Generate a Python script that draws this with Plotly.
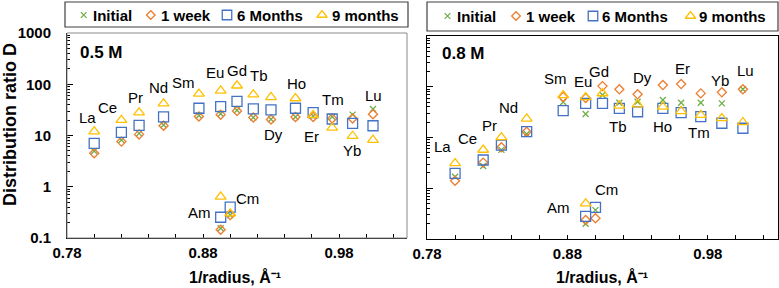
import plotly.graph_objects as go

W, H = 779, 288
FONT = "Liberation Sans, Arial, sans-serif"

# ---------------- data ----------------
elements = ["La", "Ce", "Pr", "Nd", "Sm", "Eu", "Gd", "Tb", "Dy", "Ho", "Er", "Tm", "Yb", "Lu", "Am", "Cm"]
inv_radius = [0.800, 0.820, 0.833, 0.851, 0.877, 0.893, 0.905, 0.917, 0.930, 0.948, 0.961, 0.975, 0.990, 1.005, 0.893, 0.900]

series_names = ["Initial", "1 week", "6 Months", "9 months"]

# 0.5 M
d05_initial = [5.0, 8.2, 11.0, 16.0, 24.5, 26.5, 31.0, 22.5, 20.7, 23.0, 24.0, 23.3, 25.5, 33.0, 0.155, 0.28]
d05_week1 = [4.5, 7.6, 10.5, 15.5, 23.5, 25.5, 30.0, 22.5, 20.5, 23.0, 23.0, 21.5, 21.5, 26.0, 0.145, 0.28]
d05_month6 = [7.0, 11.5, 15.8, 23.0, 34.0, 36.5, 46.5, 33.0, 31.5, 34.0, 28.0, 21.0, 17.3, 15.5, 0.254, 0.40]
d05_month9 = [12.0, 20.0, 28.0, 42.0, 65.0, 75.0, 94.0, 63.0, 56.0, 53.0, 25.0, 14.2, 9.8, 8.2, 0.64, 0.30]

# 0.8 M
d08_initial = [1.69, 2.74, 5.7, 11.7, 50.0, 29.0, 69.0, 48.5, 50.7, 54.8, 48.5, 48.5, 47.0, 89.0, 0.20, 0.37]
d08_week1 = [1.41, 3.2, 6.4, 13.0, 63.0, 60.0, 103.0, 89.0, 71.0, 108.0, 113.0, 74.0, 77.7, 89.0, 0.237, 0.256]
d08_month6 = [1.97, 3.6, 7.1, 13.0, 34.0, 47.0, 47.0, 37.6, 32.2, 37.6, 30.8, 25.7, 19.1, 15.2, 0.28, 0.42]
d08_month9 = [3.1, 5.7, 10.1, 23.5, 68.0, 62.0, 74.0, 42.4, 44.9, 40.4, 33.0, 27.7, 23.9, 20.0, 0.50, None]

x_ticks = [0.78, 0.88, 0.98]
y_ticks = [0.1, 1, 10, 100, 1000]
y_ticktext = ["0.1", "1", "10", "100", "1000"]

# element label positions (x, log10 y) per panel
lab05_x = [0.7954, 0.8101, 0.8300, 0.8476, 0.8653, 0.8888, 0.9050, 0.9212, 0.9315, 0.9491, 0.9601, 0.9756, 0.9896, 1.0050, 0.8771, 0.9124]
lab05_y = [1.361, 1.556, 1.751, 1.946, 2.044, 2.239, 2.278, 2.180, 1.010, 2.024, 0.971, 1.693, 0.717, 1.790, -0.493, -0.220]
lab08_x = [0.7907, 0.8085, 0.8242, 0.8377, 0.8712, 0.8911, 0.9025, 0.9160, 0.9338, 0.9474, 0.9623, 0.9737, 0.9887, 1.0065, 0.8740, 0.9075]
lab08_y = [0.813, 0.990, 1.246, 1.601, 2.153, 2.094, 2.291, 1.207, 2.192, 1.207, 2.369, 1.108, 2.133, 2.330, -0.389, -0.015]

# ---------------- styles ----------------
styles = [
    dict(symbol="x-thin-open", size=6, color="#70AD47"),
    dict(symbol="diamond-open", size=7, color="#ED7D31"),
    dict(symbol="square-open", size=10, color="#4472C4"),
    dict(symbol="triangle-up-open", size=9.5, color="#FFC000"),
]

def marker(st, scale=1.0):
    return dict(symbol=st["symbol"], size=st["size"] * scale, color=st["color"],
                line=dict(color=st["color"], width=1.3))

fig = go.Figure()

panels = [
    ("x", "y", [d05_initial, d05_week1, d05_month6, d05_month9]),
    ("x2", "y2", [d08_initial, d08_week1, d08_month6, d08_month9]),
]
for xa, ya, sets in panels:
    for name, vals, st in zip(series_names, sets, styles):
        fig.add_trace(go.Scatter(x=inv_radius, y=vals, mode="markers", name=name,
                                 marker=marker(st), xaxis=xa, yaxis=ya,
                                 showlegend=False, cliponaxis=False))

# ---------------- legends (pixel overlay axis) ----------------
legend_rows = [
    dict(box=(65, 2, 408, 27), yc=15, sym=[83.7, 150.8, 227, 322], txt=[90.5, 159, 235, 330]),
    dict(box=(427, 2, 778, 31), yc=16, sym=[447.5, 516, 593, 690.5], txt=[455, 524, 600, 697]),
]
shapes = []
annotations = []
for row in legend_rows:
    x0, y0, x1, y1 = row["box"]
    shapes.append(dict(type="rect", xref="x3", yref="y3", x0=x0, y0=y0, x1=x1, y1=y1,
                       line=dict(color="#404040", width=1.2)))
    for i, (name, st) in enumerate(zip(series_names, styles)):
        fig.add_trace(go.Scatter(x=[row["sym"][i]], y=[row["yc"]], mode="markers",
                                 marker=marker(st, 0.95), xaxis="x3", yaxis="y3",
                                 showlegend=False, hoverinfo="skip"))
        annotations.append(dict(xref="x3", yref="y3", x=row["txt"][i], y=row["yc"],
                                text="<b>%s</b>" % name, showarrow=False,
                                xanchor="left", yanchor="middle",
                                font=dict(family=FONT, size=15, color="black")))

# left panel gray frame (top/right)
shapes.append(dict(type="rect", xref="x3", yref="y3", x0=67, y0=33, x1=407, y1=238,
                   line=dict(color="#8a8a8a", width=1), layer="below"))

# element labels
for xa, ya, lx, ly in [("x", "y", lab05_x, lab05_y), ("x2", "y2", lab08_x, lab08_y)]:
    for el, ax_, ay_ in zip(elements, lx, ly):
        annotations.append(dict(xref=xa, yref=ya, x=ax_, y=ay_, text=el, showarrow=False,
                                xanchor="center", yanchor="middle",
                                font=dict(family=FONT, size=15, color="black")))

# panel labels
annotations.append(dict(xref="x3", yref="y3", x=78, y=52, text="<b>0.5 M</b>", showarrow=False,
                        xanchor="left", yanchor="middle", font=dict(family=FONT, size=17, color="black")))
annotations.append(dict(xref="x3", yref="y3", x=440, y=53, text="<b>0.8 M</b>", showarrow=False,
                        xanchor="left", yanchor="middle", font=dict(family=FONT, size=17, color="black")))
# axis titles
for cx in [235, 602]:
    annotations.append(dict(xref="x3", yref="y3", x=cx, y=277, text="<b>1/radius, Å⁻¹</b>", showarrow=False,
                            xanchor="center", yanchor="middle", font=dict(family=FONT, size=16, color="black")))
annotations.append(dict(xref="x3", yref="y3", x=10, y=125, text="<b>Distribution ratio D</b>", showarrow=False,
                        textangle=-90, xanchor="center", yanchor="middle", borderpad=0,
                        font=dict(family=FONT, size=18, color="black")))

xcommon = dict(range=[0.78, 1.03], tickmode="array", tickvals=x_ticks, ticks="inside", ticklen=4,
               tickcolor="black", showline=True, linecolor="black", linewidth=1, showgrid=False,
               zeroline=False, tickformat=".2f", ticklabelstandoff=1, automargin=False,
               tickfont=dict(family=FONT, size=15, color="black", weight="bold"),
               minor=dict(ticks="inside", ticklen=4, tickcolor="black", tick0=0.78, dtick=0.02, showgrid=False))
ycommon = dict(type="log", range=[-1, 3], tickmode="array", tickvals=y_ticks, ticktext=y_ticktext,
               ticks="inside", ticklen=6, tickcolor="black", showline=True, linecolor="black", linewidth=1,
               showgrid=False, zeroline=False, ticklabelstandoff=12, automargin=False,
               tickfont=dict(family=FONT, size=15, color="black", weight="bold"),
               minor=dict(ticks="inside", ticklen=3, tickcolor="black", dtick="D1", showgrid=False))

fig.update_layout(
    width=W, height=H, margin=dict(l=0, r=0, t=0, b=0, autoexpand=False),
    paper_bgcolor="white", plot_bgcolor="rgba(0,0,0,0)", showlegend=False,
    xaxis=dict(xcommon, domain=[67 / W, 407 / W], anchor="y"),
    yaxis=dict(ycommon, domain=[(H - 238) / H, (H - 33) / H], anchor="x"),
    xaxis2=dict(xcommon, domain=[427 / W, 778 / W], anchor="y2", mirror=True),
    yaxis2=dict(ycommon, domain=[(H - 239) / H, (H - 36) / H], anchor="x2", mirror=True, showticklabels=False),
    xaxis3=dict(domain=[0, 1], range=[0, W], visible=False, fixedrange=True, anchor="y3", automargin=False),
    yaxis3=dict(domain=[0, 1], range=[H, 0], visible=False, fixedrange=True, anchor="x3", automargin=False),
    shapes=shapes, annotations=annotations,
)

fig.write_html("out.html")
